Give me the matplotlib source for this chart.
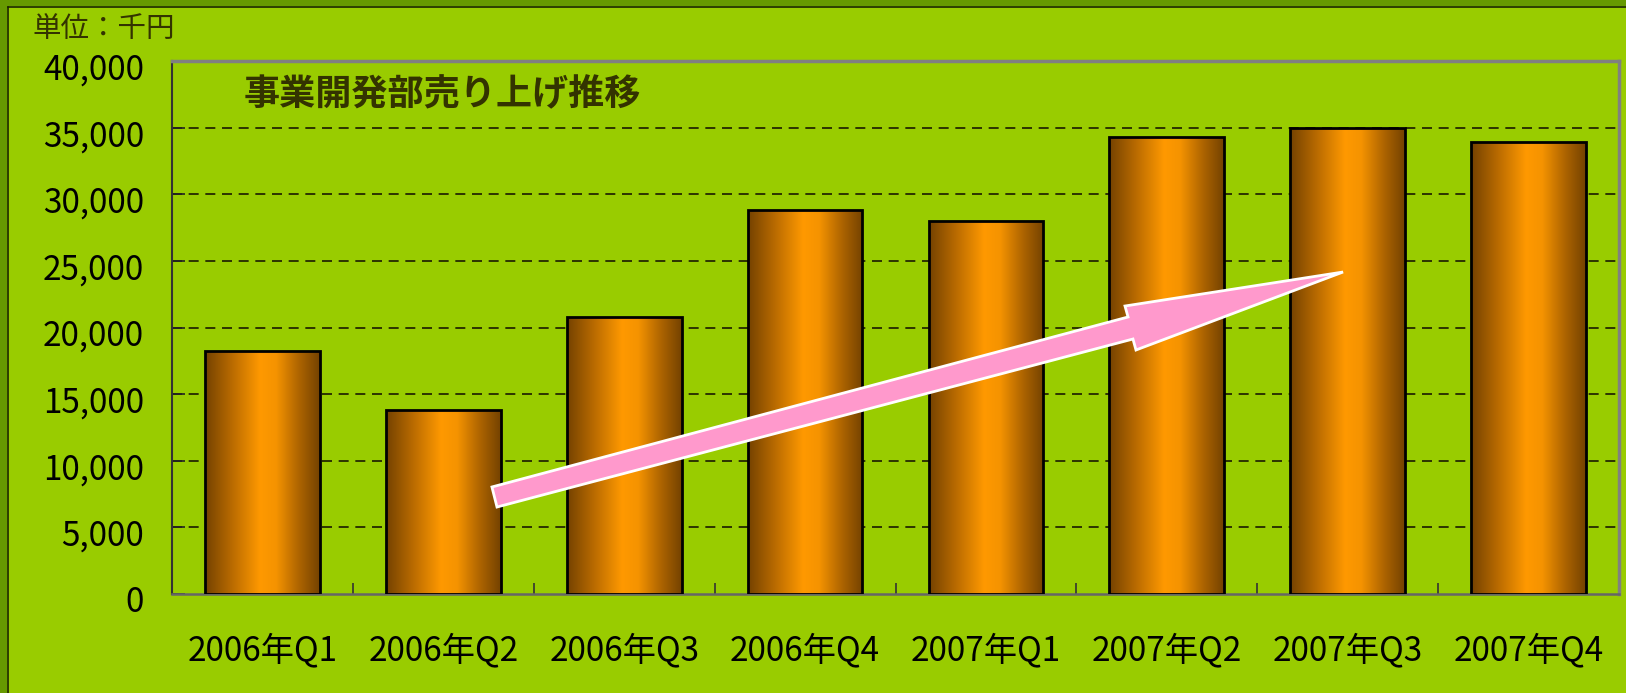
import matplotlib
matplotlib.use("Agg")
import matplotlib.pyplot as plt
import numpy as np
from matplotlib.colors import LinearSegmentedColormap
from matplotlib.patches import Rectangle, Polygon
from matplotlib.lines import Line2D
from matplotlib.ticker import FuncFormatter
from matplotlib.transforms import ScaledTranslation

plt.rcParams['font.family'] = ['Noto Sans CJK JP', 'DejaVu Sans']

categories = ["2006年Q1", "2006年Q2", "2006年Q3", "2006年Q4",
              "2007年Q1", "2007年Q2", "2007年Q3", "2007年Q4"]
sales = [18250, 13800, 20800, 28800, 28000, 34300, 34950, 33900]
y_ticks = [0, 5000, 10000, 15000, 20000, 25000, 30000, 35000, 40000]
title = "事業開発部売り上げ推移"
unit_label = "単位：千円"

BG = "#99CC00"
FRAME = "#669900"
TXT = "#333300"

W, H = 1626, 693
fig = plt.figure(figsize=(W / 100, H / 100), dpi=100, facecolor=BG)

# outer frame (dark green band on left and top)
fig.add_artist(Rectangle((0, 0), 7 / W, 1, transform=fig.transFigure,
                         facecolor=FRAME, edgecolor="none", zorder=0))
fig.add_artist(Rectangle((0, 1 - 6 / H), 1, 6 / H, transform=fig.transFigure,
                         facecolor=FRAME, edgecolor="none", zorder=0))
fig.add_artist(Line2D([7.5 / W, 7.5 / W], [0, 1 - 6.5 / H], transform=fig.transFigure,
                      color="#1a2600", lw=1.2))
fig.add_artist(Line2D([7.5 / W, 1], [1 - 6.5 / H, 1 - 6.5 / H], transform=fig.transFigure,
                      color="#1a2600", lw=1.2))

ax = fig.add_axes([172 / W, 1 - 594 / H, 1447 / W, 533 / H])
ax.set_facecolor(BG)

x = np.arange(len(categories))
bars = ax.bar(x, sales, width=0.635, facecolor="none", edgecolor="black",
              linewidth=2.0, zorder=4)

cmap = LinearSegmentedColormap.from_list(
    "bar", [(0.0, "#744200"), (0.22, "#b56800"), (0.48, "#ff9900"),
            (0.62, "#f59300"), (0.82, "#ad6400"), (1.0, "#744200")])
grad = np.linspace(0, 1, 256).reshape(1, -1)
for b in bars:
    x0 = b.get_x()
    im = ax.imshow(grad, extent=[x0, x0 + b.get_width(), 0, b.get_height()],
                   aspect="auto", cmap=cmap, zorder=3, interpolation="bilinear")
    clip = Rectangle((x0, 0), b.get_width(), b.get_height(),
                     transform=ax.transData, facecolor="none", edgecolor="none")
    im.set_clip_path(clip)

ax.set_xlim(-0.5, len(categories) - 0.5)
ax.set_ylim(0, 40000)
ax.set_yticks(y_ticks)
ax.yaxis.set_major_formatter(FuncFormatter(lambda v, p: f"{int(v):,}"))
ax.set_xticks(x)
ax.set_xticklabels(categories)
ax.set_xticks(np.arange(0.5, len(categories) - 0.5, 1.0), minor=True)

ax.tick_params(axis="y", direction="in", length=9, width=1.2, color="#222222",
               labelsize=24, labelcolor="black", pad=20)
ax.tick_params(axis="x", which="major", length=0, labelsize=24,
               labelcolor="black", pad=28)
ax.tick_params(axis="x", which="minor", direction="in", length=8, width=1.2,
               color="#333333")

# shift y tick labels slightly downward like the reference
offset = ScaledTranslation(0, -5 / 100, fig.dpi_scale_trans)
for lbl in ax.get_yticklabels():
    lbl.set_transform(lbl.get_transform() + offset)

for yv in y_ticks[1:-1]:
    ax.axhline(yv, color="#1a1a00", lw=1.2, ls=(0, (6, 4)), zorder=1)

ax.spines["left"].set_color("#333333")
ax.spines["left"].set_linewidth(1.5)
ax.spines["bottom"].set_color("#666666")
ax.spines["bottom"].set_linewidth(1.8)
ax.spines["top"].set_color("#808080")
ax.spines["top"].set_linewidth(2.5)
ax.spines["right"].set_color("#808080")
ax.spines["right"].set_linewidth(2.5)

# pink block arrow (axes-fraction coordinates)
arrow_pts = [(0.2211, 0.2008), (0.6607, 0.5197), (0.6586, 0.5403),
             (0.8093, 0.6041), (0.6662, 0.4578), (0.6641, 0.4784),
             (0.2246, 0.1632)]
ax.add_patch(Polygon(arrow_pts, closed=True, transform=ax.transAxes,
                     facecolor="#FF99CC", edgecolor="white", linewidth=2,
                     zorder=6))

fig.text(244 / W, 1 - 95 / H, title, fontsize=26, fontweight="bold",
         color=TXT, ha="left", va="center")
fig.text(32 / W, 1 - 29 / H, unit_label, fontsize=20.5, color=TXT,
         ha="left", va="center")

fig.savefig("out.png", dpi=100, facecolor=BG)
